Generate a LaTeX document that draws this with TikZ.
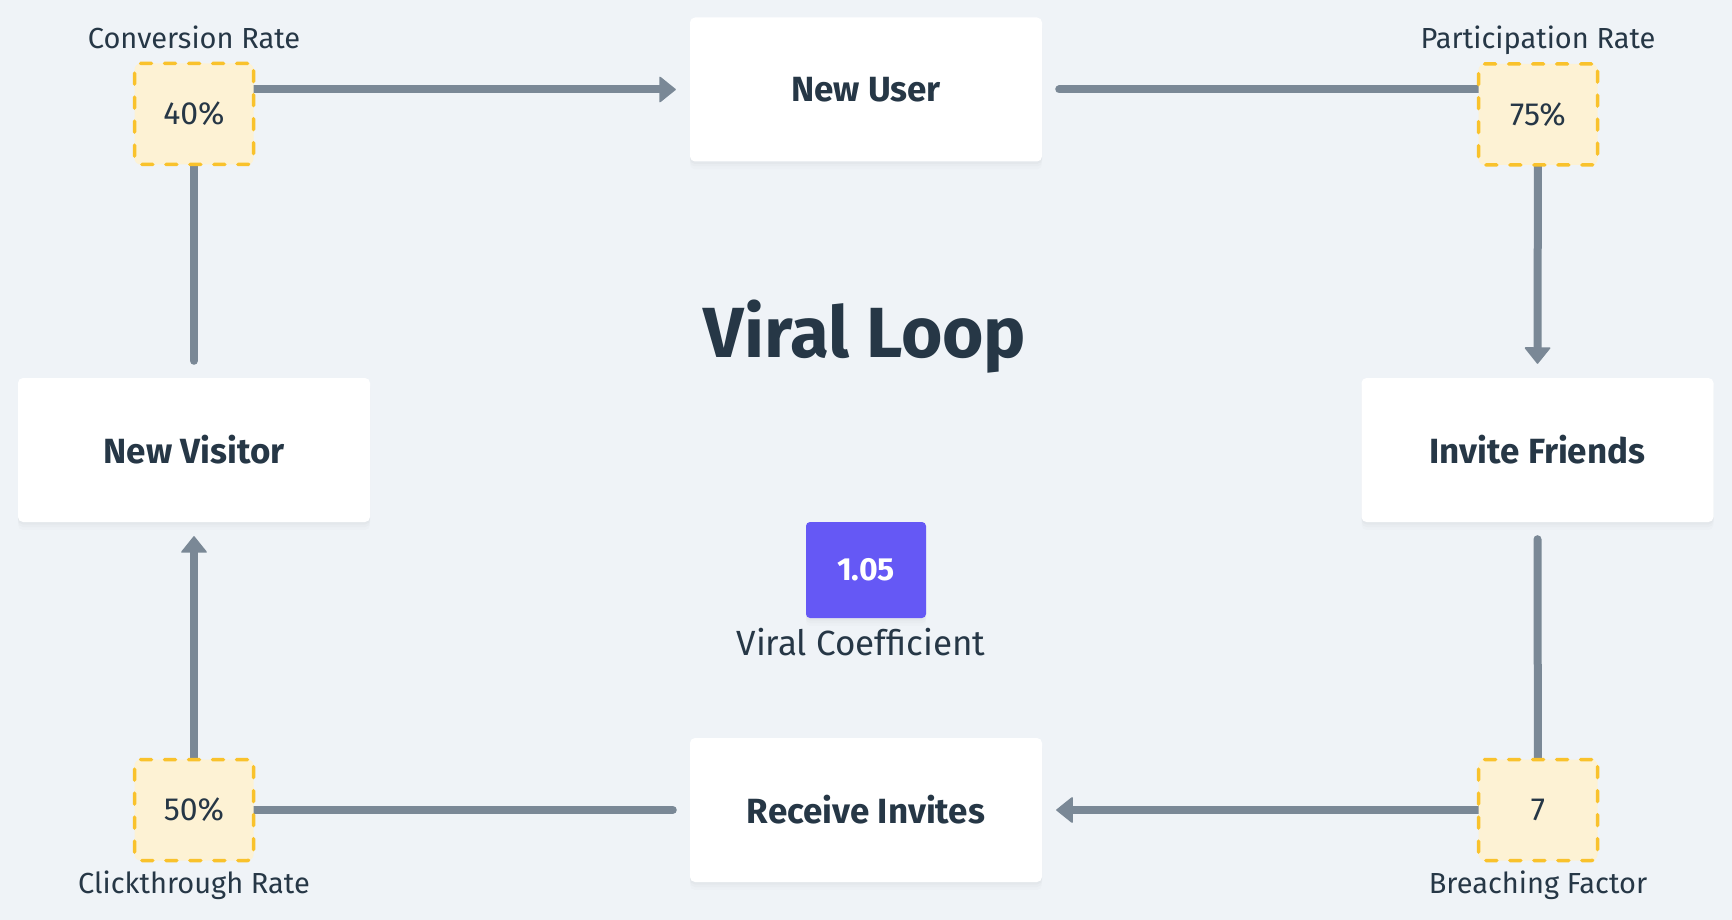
\documentclass[tikz,border=0pt]{standalone}
\usepackage{fontspec}
\setmainfont{Fira Sans}
\usetikzlibrary{arrows.meta,shadows}
\definecolor{bgc}{HTML}{EFF3F7}
\definecolor{ink}{HTML}{263746}
\definecolor{edgec}{HTML}{7A8896}
\definecolor{ratefill}{HTML}{FDF2D4}
\definecolor{rateline}{HTML}{F9C22C}
\definecolor{purp}{HTML}{6558F5}
\pgfdeclarelayer{bglayer}
\pgfdeclarelayer{edgelayer}
\pgfsetlayers{bglayer,edgelayer,main}
\tikzset{
  cardshadow/.style={general shadow={fill=black, opacity=0.012, shadow yshift=-8pt},
                     general shadow={fill=black, opacity=0.015, shadow yshift=-5pt},
                     general shadow={fill=black, opacity=0.02, shadow yshift=-2.5pt}},
  card/.style={fill=white, rounded corners=5pt, minimum width=352pt, minimum height=144pt,
               inner sep=0pt, font=\fontsize{35}{40}\selectfont\bfseries, text=ink, cardshadow},
  rate/.style={fill=ratefill, draw=rateline, line width=3.5pt, line cap=round,
               dash pattern=on 11pt off 13pt, rounded corners=6pt,
               minimum width=119pt, minimum height=101pt, inner sep=0pt,
               font=\fontsize{32}{36}\selectfont, text=ink},
  ratelabel/.style={anchor=base, font=\fontsize{29}{34}\selectfont, text=ink, inner sep=0pt},
  conn/.style={draw=edgec, line width=8pt, line cap=round},
  arrowconn/.style={conn, -{Triangle[width=27pt,length=17pt,line width=1.5pt,round]}},
  coefbox/.style={fill=purp, rounded corners=4pt, minimum width=120pt, minimum height=96pt,
                  inner sep=0pt, font=\fontsize{32}{36}\selectfont\bfseries, text=white, cardshadow}
}
\begin{document}
\begin{tikzpicture}[x=1pt,y=-1pt]
\useasboundingbox (0,0) rectangle (1732,920);
\begin{pgfonlayer}{bglayer}
\fill[bgc] (0,0) rectangle (1732,920);
\end{pgfonlayer}

% main cards
\node[card] (nu)  at (866,89.5) {New User};
\node[card] (nv)  at (194,450)  {New Visitor};
\node[card] (inv) at (1537.5,450) {Invite Friends};
\node[card] (ri)  at (866,810)  {Receive Invites};

% rate boxes
\node[rate] (r40) at (194,114)  {40\%};
\node[rate] (r75) at (1538,114.5) {75\%};
\node[rate] (r50) at (194,810)  {50\%};
\node[rate] (r7)  at (1538,810) {7};

% rate labels
\node[ratelabel] (l40) at (194,49)   {Conversion Rate};
\node[ratelabel] (l75) at (1538,49)  {Participation Rate};
\node[ratelabel] (l50) at (194,893)  {Clickthrough Rate};
\node[ratelabel] (l7)  at (1538,893) {Breaching Factor};

% centre
\node[anchor=base, inner sep=0pt, font=\fontsize{71}{80}\selectfont\bfseries, text=ink] (title) at (865,357) {Viral Loop};
\node[coefbox] (coef) at (866,570) {1.05};
\node[anchor=base, inner sep=0pt, font=\fontsize{35}{40}\selectfont, text=ink] (coeflabel) at (861,655) {Viral Coefficient};

% connectors
\begin{pgfonlayer}{edgelayer}
\draw[arrowconn] (r40.center |- nu.west) -- ([xshift=-14pt]nu.west);
\draw[conn] ([xshift=17pt]nu.east) -- (r75.center |- nu.east);
\draw[arrowconn] (r75.center) -- ([yshift=14pt]inv.north);
\draw[conn] ([yshift=-17pt]inv.south) -- (r7.center);
\draw[arrowconn] (r7.center) -- ([xshift=14pt]ri.east);
\draw[conn] ([xshift=-17pt]ri.west) -- (r50.center);
\draw[arrowconn] (r50.center) -- ([yshift=-14pt]nv.south);
\draw[conn] ([yshift=17pt]nv.north) -- (r40.center);
\end{pgfonlayer}
\end{tikzpicture}
\end{document}
